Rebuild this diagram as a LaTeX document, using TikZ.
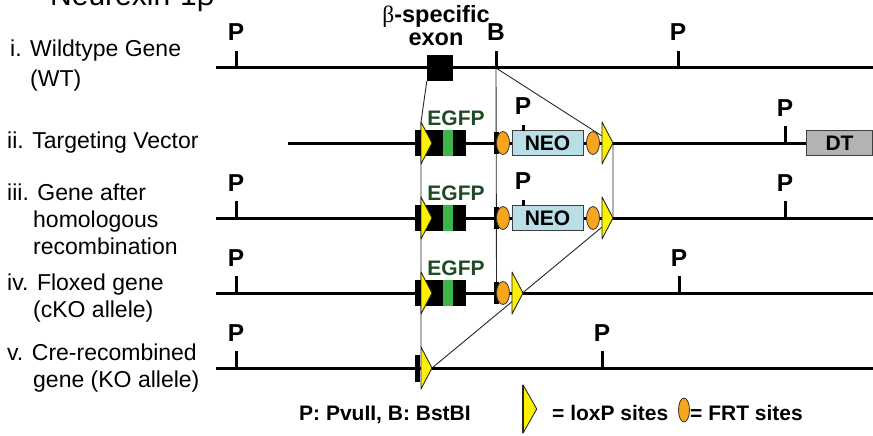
\documentclass[tikz,border=0pt]{standalone}
\usepackage{fontspec}
\setmainfont{Liberation Sans}
\newfontfamily\greekserif{Liberation Serif}
\usetikzlibrary{shapes.geometric}
\pgfdeclarelayer{background}
\pgfsetlayers{background,main}

\definecolor{loxyellow}{HTML}{FFF200}
\definecolor{frtorange}{HTML}{F7A51C}
\definecolor{gfpgreen}{HTML}{3DB54A}
\definecolor{gfptext}{HTML}{1E4A24}
\definecolor{neoblue}{HTML}{B9DEE5}
\definecolor{dtgray}{HTML}{B3B3B3}

\newcommand\rowfont{\fontsize{23}{27}\selectfont}
\newcommand\sitefont{\bfseries\fontsize{24.5}{27}\selectfont}
\newcommand\exonfont{\bfseries\fontsize{23.5}{24}\selectfont}
\newcommand\boxfont{\bfseries\fontsize{21}{25}\selectfont}
\newcommand\keyfont{\bfseries\fontsize{21}{25}\selectfont}

\tikzset{
  loxp/.pic={
    \filldraw[fill=loxyellow, draw=black!85, line width=0.9pt, line join=round]
      (0,-21) -- (11,0) -- (0,21) -- cycle;
    \coordinate (-tip) at (11,0);
    \coordinate (-top) at (0,-21);
  }
}

\begin{document}
\begin{tikzpicture}[
  x=1pt, y=-1pt,
  gene/.style={line width=3pt},
  site/.style={line width=3pt},
  link/.style={line width=0.9pt, black!85},
  rowlbl/.style={font=\rowfont, anchor=base west, inner sep=0pt},
  sitelbl/.style={font=\sitefont, anchor=base, inner sep=0pt, yshift=10pt},
  bar/.style={fill=black, minimum width=5pt, minimum height=22pt, inner sep=0pt},
  frt/.style={ellipse, fill=frtorange, draw=black!80, line width=0.8pt,
    minimum width=13pt, minimum height=23pt, inner sep=0pt},
  neobox/.style={fill=neoblue, draw=black!75, line width=1pt, minimum width=71pt,
    minimum height=25pt, inner sep=0pt, font=\boxfont},
  dtbox/.style={fill=dtgray, draw=black!75, line width=1pt, minimum height=25pt,
    inner xsep=19pt, inner ysep=0pt, font=\boxfont},
  exonbox/.style={fill=black, minimum size=26pt, inner sep=0pt},
  gfplbl/.style={font=\boxfont, text=gfptext, anchor=base, inner sep=0pt},
  keylbl/.style={font=\keyfont, anchor=base west, inner sep=0pt}
  ]
\useasboundingbox (0,0) rectangle (873,436);

% title, cut by the page edge
\node[font=\fontsize{30}{34}\selectfont, anchor=base west, inner sep=0pt] (title) at (50,6) {Neurexin-1β};

% row labels
\foreach \lx/\ly/\ltxt [count=\i] in {10/57/{i. Wildtype Gene}, 30/86/{(WT)},
    7/148/{ii. Targeting Vector}, 7/200/{iii. Gene after}, 33/227/{homologous},
    33/254/{recombination}, 7/290/{iv. Floxed gene}, 33/317/{(cKO allele)},
    7/360/{v. Cre-recombined}, 33/387/{gene (KO allele)}}
  \node[rowlbl] (lbl\i) at (\lx,\ly) {\ltxt};

% gene lines
\node[dtbox, anchor=west] (dt) at (806,143) {DT\hspace{12pt}};
\draw[gene] (216,68) -- (873,68);
\draw[gene] (288,143) -- (dt.west);
\foreach \ry in {218, 293, 368}
  \draw[gene] (216,\ry) -- (873,\ry);

% i. wildtype
\node[exonbox] (exon) at (440,68) {};
\node[font=\exonfont, align=center, inner sep=0pt, anchor=base] (exonlbl) at (436,46)
  {{\greekserif\mdseries β}-specific\\[-1pt]exon};
\coordinate (bsite) at (496,68);
\draw[site] (236,68) -- (236,51) node[sitelbl] (pa1) {P};
\draw[site] (bsite) -- (496,51) node[sitelbl] (ba) {B};
\draw[site] (678,68) -- (678,51) node[sitelbl] (pa2) {P};

% EGFP cassette, rows ii to iv
\foreach \r/\ry in {b/143, c/218, d/293} {
  \fill (415,\ry-13) rectangle (466,\ry+13);
  \fill[gfpgreen] (443,\ry-13) rectangle (453,\ry+13);
  \pic (lox\r1) at (421,\ry) {loxp};
  \node[gfplbl] (gfp\r) at (456,\ry-18) {EGFP};
  \node[bar] (bar\r) at (496.5,\ry) {};
  \node[frt] (frt\r1) at (503,\ry) {};
}

% NEO cassette, rows ii and iii
\foreach \r/\ry in {b/143, c/218} {
  \node[neobox] (neo\r) at (547.5,\ry) {NEO};
  \node[frt] (frt\r2) at (593,\ry) {};
  \pic (lox\r2) at (602,\ry) {loxp};
  \draw[site] (523,\ry-12.5) -- ++(0,-6) node[sitelbl] (pn\r) {P};
  \draw[site] (785,\ry) -- ++(0,-17) node[sitelbl] (pr\r) {P};
}
\draw[site] (236,218) -- (236,201) node[sitelbl] (pc1) {P};

% iv. floxed
\pic (loxd2) at (512,293) {loxp};
\draw[site] (236,293) -- (236,276) node[sitelbl] (pd1) {P};
\draw[site] (679,293) -- (679,276) node[sitelbl] (pd2) {P};

% v. cre-recombined
\node[bar, minimum height=27pt] (bare) at (417.5,368) {};
\pic (loxe) at (421,368) {loxp};
\draw[site] (236,368) -- (236,351) node[sitelbl] (pe1) {P};
\draw[site] (602,368) -- (602,351) node[sitelbl] (pe2) {P};

% guide lines
\begin{pgfonlayer}{background}
\draw[link] (exon.south west) -- (loxb1-top) -- (loxe-top);
\draw[link] (bsite) -- (bard.north);
\draw[link] (bsite) -- (loxb2-tip) -- (loxc2-tip) -- (loxe-tip);
\end{pgfonlayer}

% key
\node[keylbl] (keysites) at (299,420) {P: PvuII, B: BstBI};
\pic[xscale=1.25, yscale=1.15] (keylox) at (523,409) {loxp};
\draw[line width=2pt, black!85] (keylox-top) -- ++(0,48);
\node[keylbl] (keyloxtxt) at (552,420) {= loxP sites};
\node[frt, minimum width=11pt, minimum height=24pt] (keyfrt) at (684,410) {};
\node[keylbl] (keyfrttxt) at (690,420) {= FRT sites};

\end{tikzpicture}
\end{document}
